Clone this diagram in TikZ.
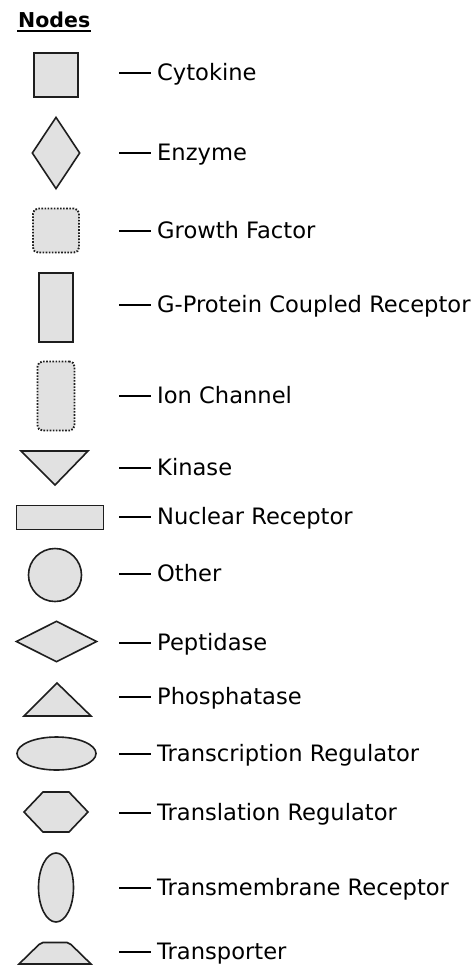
\documentclass[tikz,border=0pt]{standalone}
\usepackage{fontspec}
\setmainfont{DejaVu Sans}
\usetikzlibrary{shapes}
\definecolor{nodefill}{HTML}{E1E1E1}
\definecolor{nodeline}{HTML}{1E1E1E}
\tikzstyle{plainbox}=[rectangle,
	line width=1.6pt,
	inner sep=0pt,
	draw=nodeline,
	fill=nodefill]
\tikzstyle{dotbox}=[plainbox,
	line width=1.9pt,
	rounded corners=5pt,
	dash pattern=on 1.6pt off 1.5pt]
\tikzstyle{legtext}=[anchor=west,
	inner sep=0pt,
	text height=20pt,
	text depth=5pt,
	font=\fontsize{22.6}{27}\selectfont]
\tikzstyle{legline}=[line width=1.8pt,
	shorten >=6pt]

\begin{document}
\begin{tikzpicture}[x=1pt,y=-1pt]
	\useasboundingbox (0,0) rectangle (473,967);
	\node (title) [anchor=base west, inner sep=0pt, font=\fontsize{20.5}{24}\selectfont\bfseries] at (18,27) {Nodes};
	\draw[line width=2pt] ([yshift=-4pt,xshift=-1pt]title.base west) -- ([yshift=-4pt,xshift=1pt]title.base east);

	% shapes
	\node (cytokine) [plainbox, minimum width=44pt, minimum height=44pt] at (56,75) {};
	\node (enzyme) [plainbox, diamond, minimum width=48pt, minimum height=72pt] at (56,153) {};
	\node (growthfactor) [dotbox, minimum width=46pt, minimum height=44pt] at (56,230.5) {};
	\node (gpcr) [plainbox, minimum width=34pt, minimum height=69pt] at (56,307.5) {};
	\node (ionchannel) [dotbox, minimum width=37pt, minimum height=69pt] at (56,396) {};
	\draw[plainbox] (21,451) -- (88,451) -- (55,485) -- cycle;
	\node (nuclear) [plainbox, minimum width=87pt, minimum height=24pt] at (60,517.5) {};
	\node (other) [plainbox, circle, minimum size=53pt] at (55,575) {};
	\node (peptidase) [plainbox, diamond, minimum width=81pt, minimum height=41pt] at (56.5,641.5) {};
	\draw[plainbox] (24,716) -- (91,716) -- (57,683) -- cycle;
	\node (transcription) [plainbox, ellipse, minimum width=79pt, minimum height=33pt] at (56.5,753.5) {};
	\draw[plainbox] (43,792) -- (69,792) -- (88,812) -- (69,832) -- (43,832) -- (24,812) -- cycle;
	\node (transmembrane) [plainbox, ellipse, minimum width=35pt, minimum height=69pt] at (56,887.5) {};
	\draw[plainbox] (19,964) -- (39,944.5) -- (43,942.5) -- (67,942.5) -- (71,944.5) -- (91,964) -- cycle;

	% labels
	\coordinate (cytokine-l) at (119,73);
	\node (cytokine-t) [legtext] at (157,73) {Cytokine};
	\draw[legline] (cytokine-l) -- (cytokine-t);
	\coordinate (enzyme-l) at (119,153);
	\node (enzyme-t) [legtext] at (157,153) {Enzyme};
	\draw[legline] (enzyme-l) -- (enzyme-t);
	\coordinate (growthfactor-l) at (119,231);
	\node (growthfactor-t) [legtext] at (157,231) {Growth Factor};
	\draw[legline] (growthfactor-l) -- (growthfactor-t);
	\coordinate (gpcr-l) at (119,305);
	\node (gpcr-t) [legtext] at (157,305) {G-Protein Coupled Receptor};
	\draw[legline] (gpcr-l) -- (gpcr-t);
	\coordinate (ionchannel-l) at (119,396);
	\node (ionchannel-t) [legtext] at (157,396) {Ion Channel};
	\draw[legline] (ionchannel-l) -- (ionchannel-t);
	\coordinate (kinase-l) at (119,468);
	\node (kinase-t) [legtext] at (157,468) {Kinase};
	\draw[legline] (kinase-l) -- (kinase-t);
	\coordinate (nuclear-l) at (119,517);
	\node (nuclear-t) [legtext] at (157,517) {Nuclear Receptor};
	\draw[legline] (nuclear-l) -- (nuclear-t);
	\coordinate (other-l) at (119,574);
	\node (other-t) [legtext] at (157,574) {Other};
	\draw[legline] (other-l) -- (other-t);
	\coordinate (peptidase-l) at (119,643);
	\node (peptidase-t) [legtext] at (157,643) {Peptidase};
	\draw[legline] (peptidase-l) -- (peptidase-t);
	\coordinate (phosphatase-l) at (119,697);
	\node (phosphatase-t) [legtext] at (157,697) {Phosphatase};
	\draw[legline] (phosphatase-l) -- (phosphatase-t);
	\coordinate (transcription-l) at (119,754);
	\node (transcription-t) [legtext] at (157,754) {Transcription Regulator};
	\draw[legline] (transcription-l) -- (transcription-t);
	\coordinate (translation-l) at (119,813);
	\node (translation-t) [legtext] at (157,813) {Translation Regulator};
	\draw[legline] (translation-l) -- (translation-t);
	\coordinate (transmembrane-l) at (119,888);
	\node (transmembrane-t) [legtext] at (157,888) {Transmembrane Receptor};
	\draw[legline] (transmembrane-l) -- (transmembrane-t);
	\coordinate (transporter-l) at (119,952);
	\node (transporter-t) [legtext] at (157,952) {Transporter};
	\draw[legline] (transporter-l) -- (transporter-t);
\end{tikzpicture}
\end{document}
